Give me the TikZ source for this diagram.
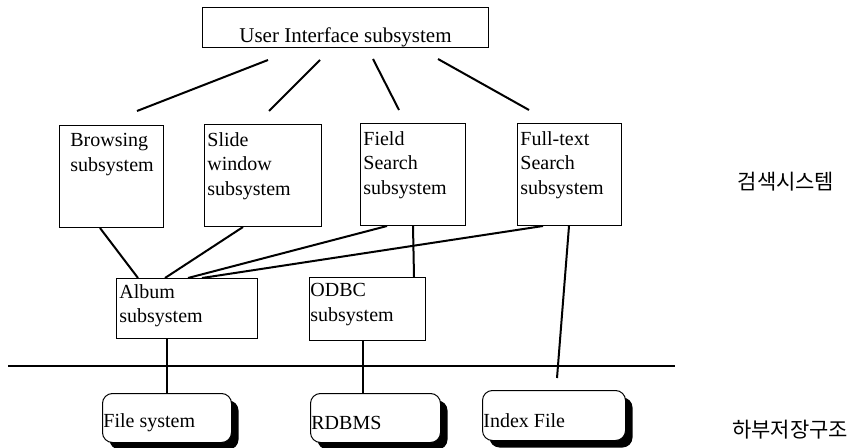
\documentclass[tikz,border=0pt]{standalone}
\usepackage{fontspec}
\setmainfont{Liberation Serif}
\newfontfamily\kofont{Noto Sans CJK KR}
\usepackage{tikz}
\usetikzlibrary{positioning, calc, shadows}

\begin{document}
\begin{tikzpicture}[
    x=0.5pt, y=-0.5pt,
    every node/.style={font=\fontsize{10}{12.3}\selectfont},
    subbox/.style={rectangle, draw, line width=0.5pt, anchor=north west, inner sep=0pt},
    boxtext/.style={anchor=north west, align=left, inner xsep=1.5pt, inner ysep=4pt},
    store/.style={rectangle, rounded corners=5pt, draw, line width=0.5pt, fill=white, anchor=north west, inner sep=0pt,
        drop shadow={shadow xshift=3.5pt, shadow yshift=-3.5pt, fill=black, opacity=1}},
    storetext/.style={anchor=west, inner xsep=0.5pt, yshift=-2.5pt},
    korean/.style={font=\kofont\fontsize{10.5}{12}\selectfont},
    link/.style={line width=1pt}
]
    \useasboundingbox (0,0) rectangle (865,448);

    \node[subbox, minimum width=143pt, minimum height=20pt,
        label={[anchor=south, inner ysep=0.3pt, font=\fontsize{10.5}{12}\selectfont]south:User Interface subsystem}] (ui) at (202,7) {};

    \node[subbox, minimum width=52pt, minimum height=51pt,
        label={[boxtext, xshift=4pt]north west:Browsing\\subsystem}] (browse) at (59,125) {};
    \node[subbox, minimum width=58.5pt, minimum height=51pt,
        label={[boxtext]north west:Slide\\window\\subsystem}] (slide) at (204,124) {};
    \node[subbox, minimum width=52.5pt, minimum height=51pt,
        label={[boxtext]north west:Field\\Search\\subsystem}] (field) at (360,123) {};
    \node[subbox, minimum width=52pt, minimum height=51pt,
        label={[boxtext]north west:Full-text\\Search\\subsystem}] (fulltext) at (517,123) {};

    \node[subbox, minimum width=70.5pt, minimum height=30pt,
        label={[boxtext, inner ysep=3pt]north west:Album\\subsystem}] (album) at (116,278) {};
    \node[subbox, minimum width=58pt, minimum height=31.5pt,
        label={[boxtext, inner ysep=3pt, inner xsep=0.5pt]north west:ODBC\\subsystem}] (odbc) at (309,277) {};

    \node[store, minimum width=64.5pt, minimum height=24.5pt,
        label={[storetext]west:File system}] (filesys) at (102,393) {};
    \node[store, minimum width=65pt, minimum height=24.5pt,
        label={[storetext]west:RDBMS}] (rdbms) at (310,393) {};
    \node[store, minimum width=71.5pt, minimum height=25pt,
        label={[storetext]west:Index File}] (indexf) at (482,390) {};

    \node[korean] (search) at (786,182) {검색시스템};
    \node[korean] (storage) at (790,430) {하부저장구조};

    \coordinate (sepL) at (8,366);
    \coordinate (sepR) at (675,366);
    \draw[line width=0.6pt] (sepL) -- (sepR);

    \draw[link] ($(ui.south west)+(66,12)$) -- ($(browse.north west)+(78,-14)$);
    \draw[link] ($(ui.south west)+(118,12)$) -- ($(slide.north west)+(65,-13)$);
    \draw[link] ($(ui.south west)+(171,11)$) -- ($(field.north west)+(39,-13)$);
    \draw[link] ($(ui.south west)+(236,11)$) -- ($(fulltext.north west)+(12,-13)$);

    \draw[link] ($(browse.south west)+(41,0)$) -- ($(album.north west)+(22,0)$);
    \draw[link] ($(slide.south west)+(39,0)$) -- ($(album.north west)+(49,0)$);
    \draw[link] ($(field.south west)+(27,0)$) -- ($(album.north west)+(72,0)$);
    \draw[link] ($(fulltext.south west)+(26,0)$) -- ($(album.north west)+(86,0)$);
    \draw[link] ($(field.south west)+(53,0)$) -- ($(odbc.north east)+(-12,0)$);
    \draw[link] ($(fulltext.south west)+(52,0)$) -- ($(indexf.north west)+(75,-12)$);

    \draw[link] (filesys.north |- album.south) -- (filesys.north);
    \draw[link] ($(odbc.south)+(-5,0)$) -- ($(odbc.south |- rdbms.north)+(-5,0)$);
\end{tikzpicture}
\end{document}
